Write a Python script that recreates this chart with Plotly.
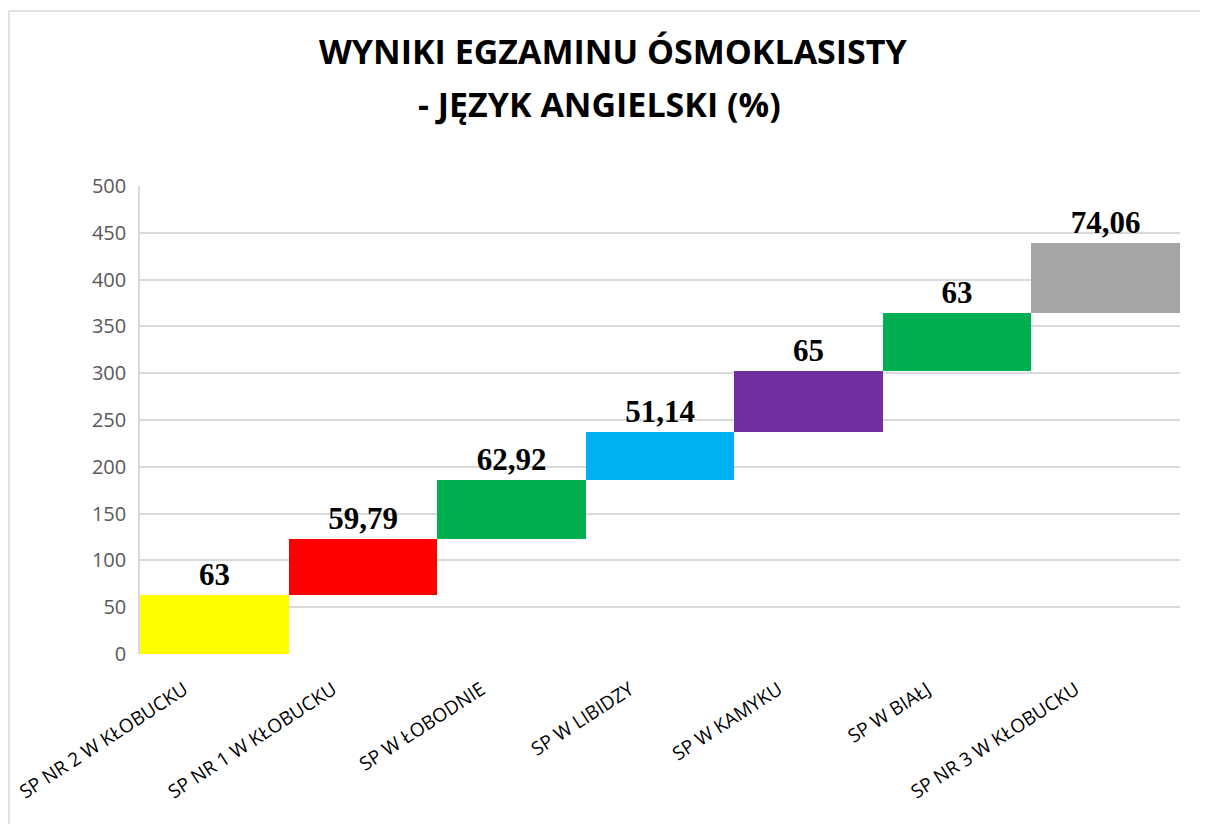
import plotly.graph_objects as go

categories = ["SP NR 2 W KŁOBUCKU", "SP NR 1 W KŁOBUCKU", "SP W ŁOBODNIE", "SP W LIBIDZY",
              "SP W KAMYKU", "SP W BIAŁJ", "SP NR 3 W KŁOBUCKU"]
values = [63, 59.79, 62.92, 51.14, 65, 63, 74.06]
colors = ["#FFFF00", "#FF0000", "#00B050", "#00B0F0", "#7030A0", "#00B050", "#A5A5A5"]
y_ticks = [0, 50, 100, 150, 200, 250, 300, 350, 400, 450, 500]

bases = []
acc = 0
for v in values:
    bases.append(acc)
    acc += v

labels = [("%g" % v).replace(".", ",") for v in values]

# page body has an 8px margin; size the figure so it fits the window without scrollbars
# and place the plot area at page x 140-1180, y 186-654
OFF = 8
W, H = 1208 - 2 * OFF, 832 - 2 * OFF
L, T, PW, PH = 140 - OFF, 186 - OFF, 1040, 468


def px_to_paper(x, y):
    return (x - OFF - L) / PW, ((T + PH) - (y - OFF)) / PH


fig = go.Figure(go.Bar(
    x=categories, y=values, base=bases,
    marker=dict(color=colors, line=dict(width=0)),
    text=labels, textposition="outside", cliponaxis=False,
    textfont=dict(family="Liberation Serif", size=31, color="#000000", weight="bold"),
    width=1.0,
))

t1x, t1y = px_to_paper(613, 51)
t2x, t2y = px_to_paper(599, 104)
bx0, by1 = px_to_paper(9, 11)
bx1, by0 = px_to_paper(1230, 860)

fig.update_layout(
    width=W, height=H,
    margin=dict(l=L, r=W - L - PW, t=T, b=H - T - PH, autoexpand=False),
    paper_bgcolor="white", plot_bgcolor="white",
    showlegend=False, bargap=0,
    font=dict(family="Open Sans"),
    xaxis=dict(tickangle=-33, tickfont=dict(size=19, color="#000000", family="Open Sans"),
               showgrid=False, showline=False, ticks="", ticklabelstandoff=20, ticklabelshift=-30,
               automargin=False),
    yaxis=dict(range=[0, 500], tickvals=y_ticks, tickfont=dict(size=20, color="#595959", family="Open Sans"),
               showgrid=True, gridcolor="#D9D9D9", gridwidth=1.5, showline=True, linecolor="#D9D9D9",
               linewidth=1.5, zeroline=False, ticks="", ticklabelstandoff=8, automargin=False),
    annotations=[
        dict(text="<b>WYNIKI EGZAMINU ÓSMOKLASISTY</b>", x=t1x, y=t1y, xref="paper", yref="paper",
             xanchor="center", yanchor="middle",
             showarrow=False, font=dict(size=34, color="#000000", family="Open Sans")),
        dict(text="<b>- JĘZYK ANGIELSKI (%)</b>", x=t2x, y=t2y, xref="paper", yref="paper",
             xanchor="center", yanchor="middle",
             showarrow=False, font=dict(size=34, color="#000000", family="Open Sans")),
    ],
    shapes=[
        dict(type="line", xref="paper", yref="paper", x0=bx0, x1=bx1, y0=by1, y1=by1,
             line=dict(color="#D9D9D9", width=1.5), layer="below"),
        dict(type="line", xref="paper", yref="paper", x0=bx0, x1=bx0, y0=by0, y1=by1,
             line=dict(color="#D9D9D9", width=1.5), layer="below"),
    ],
)

fig.write_html("out.html")
